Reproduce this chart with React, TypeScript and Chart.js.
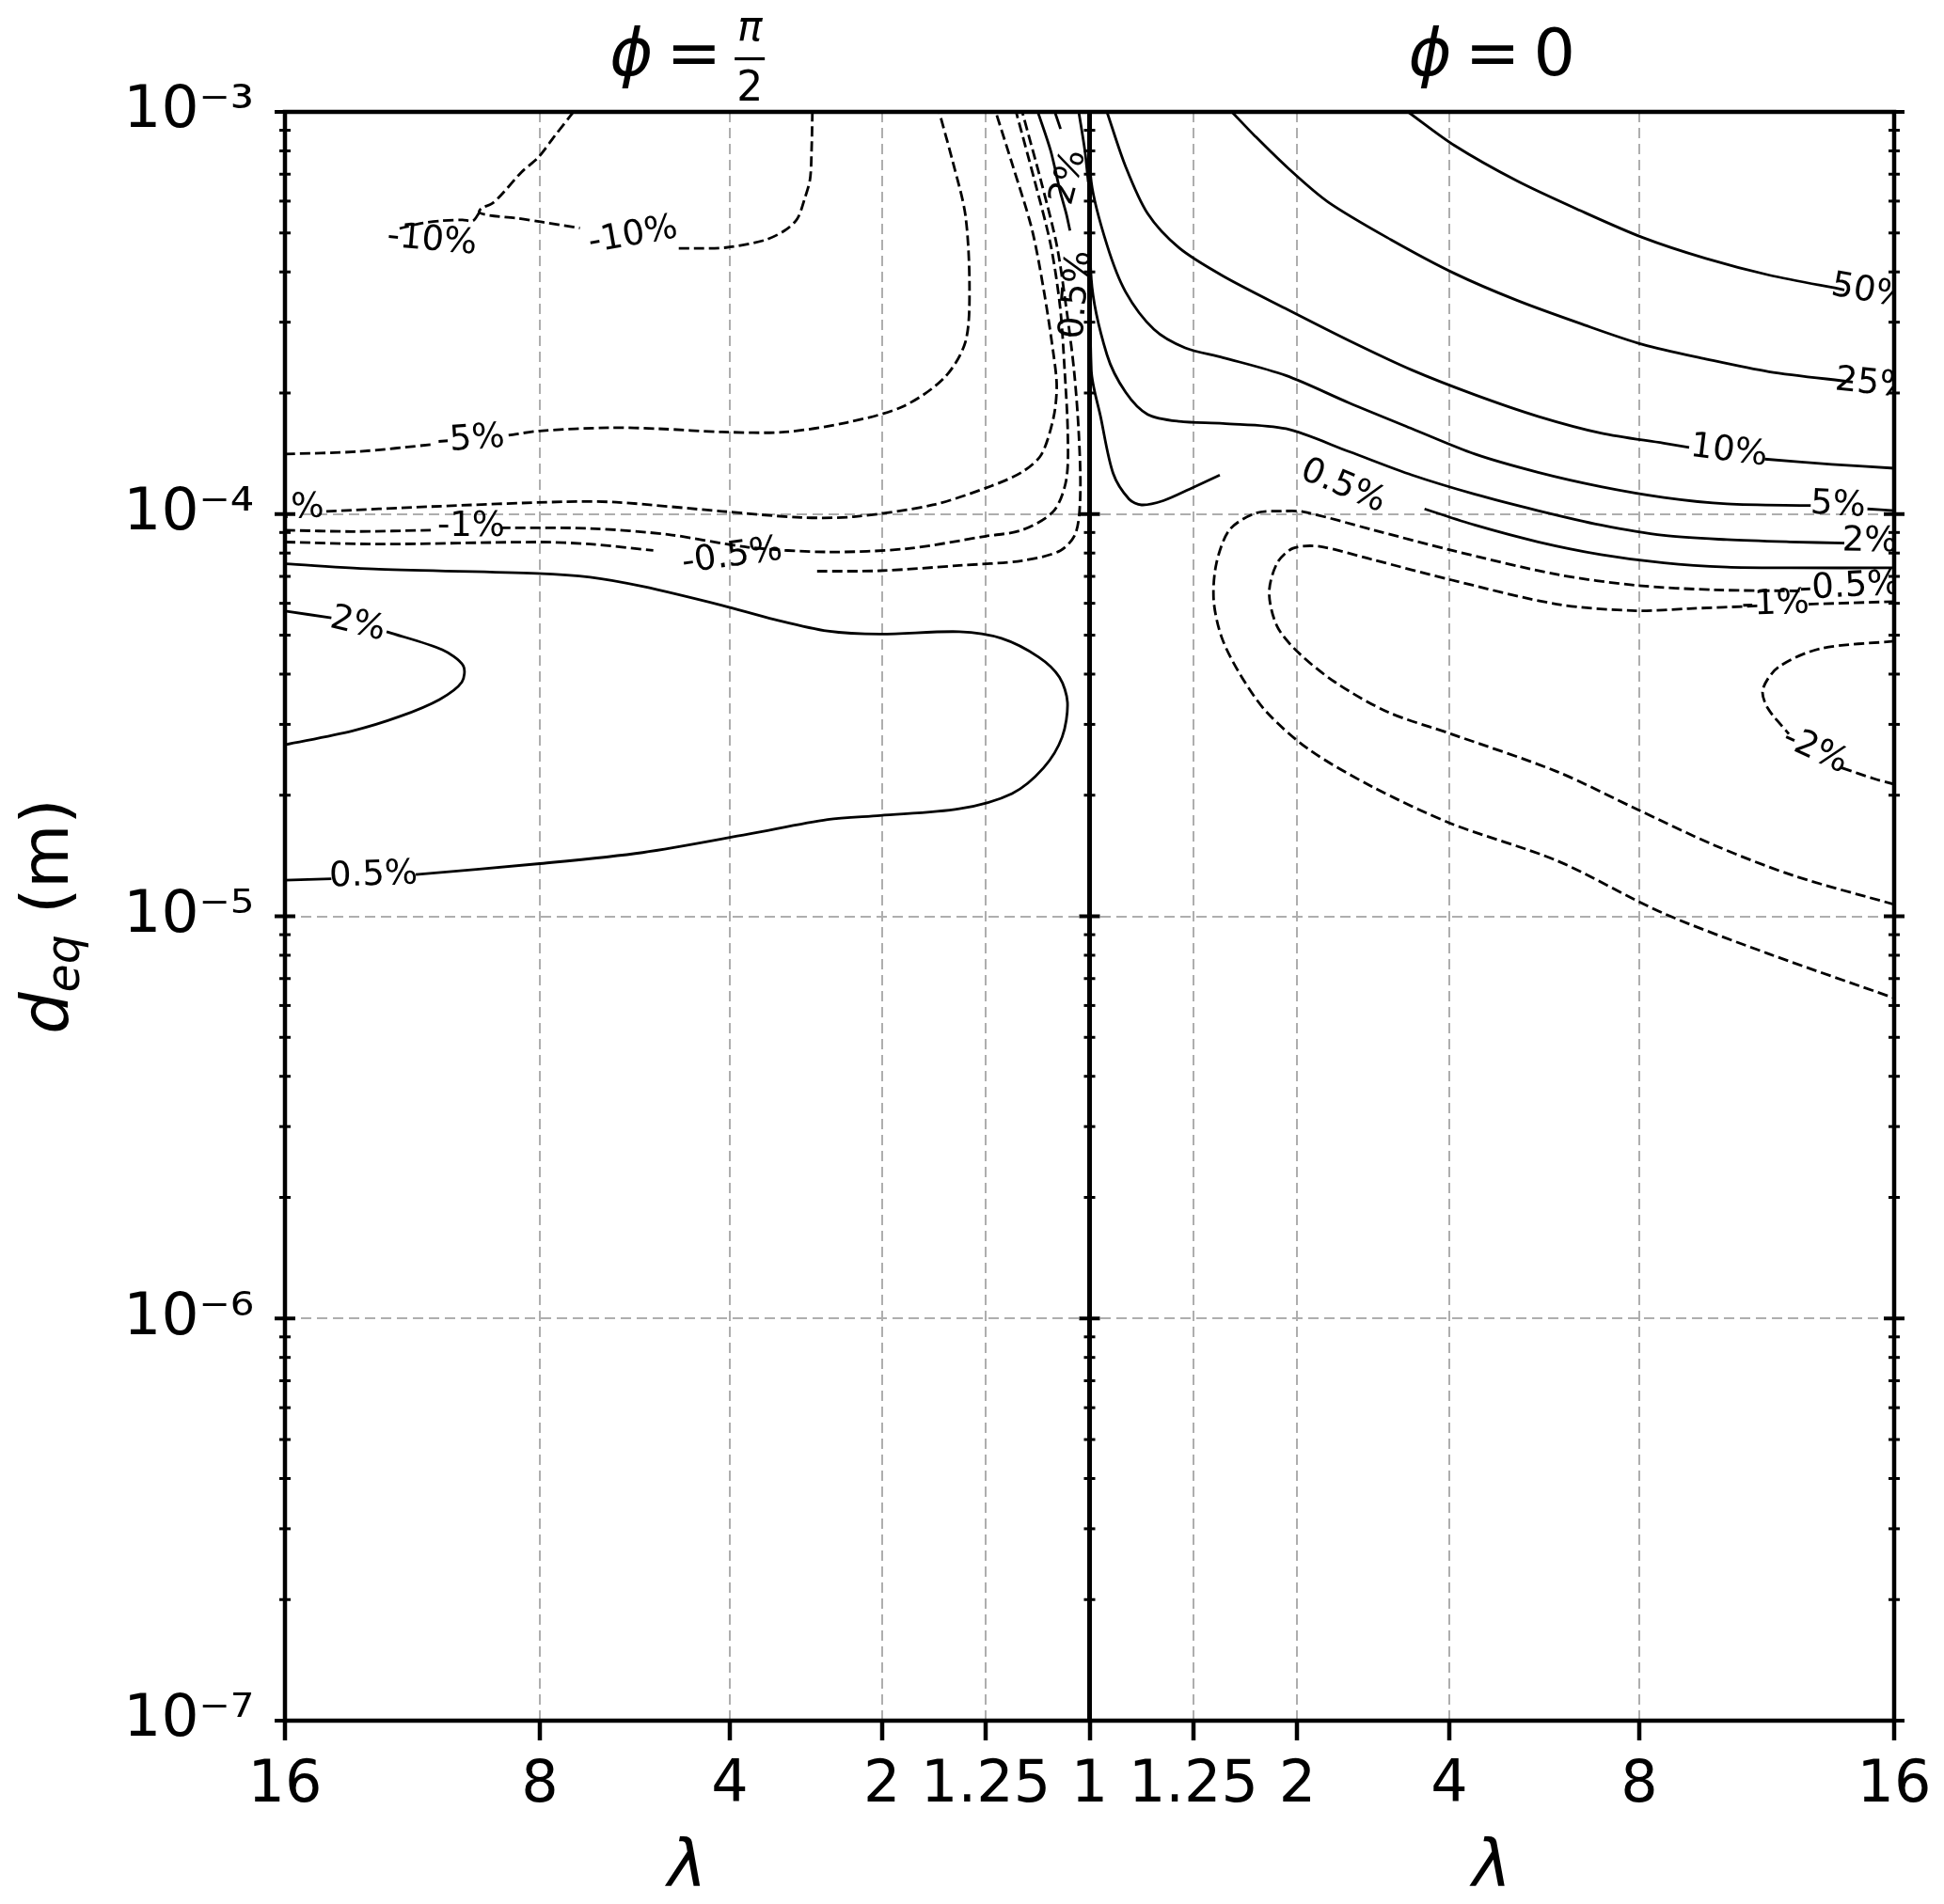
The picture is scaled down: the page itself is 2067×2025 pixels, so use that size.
import React, { useEffect, useRef } from 'react';
import Chart from 'chart.js/auto';

const FONT = '"DejaVu Sans", sans-serif';
const CANVAS_W = 2067;
const CANVAS_H = 2025;

// ---------- axes ----------
const LAMBDA_TICKS = [1, 1.25, 2, 4, 8, 16];
const LAMBDA_MAX = 16;
const D_MIN = 1e-7;
const D_MAX = 1e-3;
const D_DECADES = [1e-7, 1e-6, 1e-5, 1e-4, 1e-3];
const D_DECADE_LABELS = ['10⁻⁷', '10⁻⁶', '10⁻⁵', '10⁻⁴', '10⁻³'];
const D_MINOR_MANTISSAS = [2, 3, 4, 5, 6, 7, 8, 9];
const X_LABEL = 'λ';

// ---------- contours: [λ, d_eq (m)] ----------
// left panel (φ = π/2)
const L_M10_A = [[7.17, 1.0e-3], [7.63, 8.71e-4], [8.05, 7.69e-4], [8.48, 7.08e-4], [8.99, 6.26e-4], [9.28, 5.91e-4], [9.57, 5.76e-4], [9.63, 5.62e-4], [9.34, 5.53e-4], [8.6, 5.44e-4], [7.94, 5.32e-4], [7.02, 5.14e-4]];
const L_M10_B = [[4.91, 4.58e-4], [4.61, 4.58e-4], [4.06, 4.6e-4], [3.46, 4.79e-4], [3.16, 5.06e-4], [2.98, 5.42e-4], [2.88, 6.09e-4], [2.81, 6.81e-4], [2.79, 8.08e-4], [2.78, 1.0e-3]];
const L_M10_C = [[9.63, 5.62e-4], [9.81, 5.36e-4], [10.11, 5.39e-4], [10.73, 5.36e-4], [11.37, 5.28e-4], [12.03, 5.13e-4]];
const L_M5_A = [[16, 1.41e-4], [13.42, 1.43e-4], [10.99, 1.49e-4]];
const L_M5_B = [[8.82, 1.57e-4], [8.0, 1.61e-4], [6.34, 1.64e-4], [5.3, 1.63e-4], [4.13, 1.6e-4], [3.15, 1.6e-4], [2.36, 1.69e-4], [1.81, 1.85e-4], [1.49, 2.18e-4], [1.357, 2.68e-4], [1.334, 3.66e-4], [1.357, 5.53e-4], [1.434, 7.53e-4], [1.524, 1.0e-3]];
const L_M2 = [[14.5, 1.016e-4], [11.03, 1.044e-4], [7.41, 1.073e-4], [6.19, 1.07e-4], [4.13, 1.016e-4], [2.93, 9.81e-5], [2.29, 9.85e-5], [1.569, 1.054e-4], [1.225, 1.174e-4], [1.105, 1.273e-4], [1.054, 1.405e-4], [1.03, 1.74e-4], [1.025, 2.08e-4], [1.03, 2.49e-4], [1.048, 3.57e-4], [1.077, 5.11e-4], [1.136, 7.32e-4], [1.204, 1.0e-3]];
const L_M1_A = [[16, 9.12e-5], [13.59, 9.05e-5], [11.03, 9.12e-5]];
const L_M1_B = [[9.05, 9.24e-5], [6.78, 9.21e-5], [5.1, 8.89e-5], [3.7, 8.27e-5], [2.59, 8.05e-5], [1.777, 8.2e-5], [1.25, 8.81e-5], [1.105, 9.13e-5], [1.03, 1.017e-4], [1.0126, 1.216e-4], [1.011, 1.59e-4], [1.0144, 2.28e-4], [1.02, 3.26e-4], [1.035, 4.67e-4], [1.069, 6.69e-4], [1.125, 1.0e-3]];
const L_M05_A = [[16, 8.52e-5], [12.7, 8.42e-5], [8.07, 8.52e-5], [6.78, 8.42e-5], [5.41, 8.12e-5]];
const L_M05_B = [[2.72, 7.21e-5], [2.016, 7.23e-5], [1.393, 7.45e-5], [1.105, 7.66e-5], [1.02, 8.11e-5], [1.0045, 8.96e-5], [1.002, 1.112e-4], [1.0027, 1.59e-4], [1.0056, 2.28e-4], [1.0126, 3.26e-4], [1.025, 4.67e-4], [1.054, 6.69e-4], [1.105, 1.0e-3]];
const L_P2_A = [[16, 5.74e-5], [14.32, 5.52e-5]];
const L_P2_B = [[12.45, 5.1e-5], [10.71, 4.6e-5], [10.09, 4.2e-5], [10.13, 3.82e-5], [10.79, 3.46e-5], [12.02, 3.14e-5], [13.59, 2.89e-5], [16, 2.67e-5]];
const L_P05_A = [[16, 7.52e-5], [12.7, 7.29e-5], [8.07, 7.12e-5], [6.78, 6.97e-5], [5.63, 6.61e-5], [4.13, 5.93e-5], [3.3, 5.47e-5], [2.59, 5.12e-5], [2.016, 5.03e-5], [1.393, 5.1e-5], [1.18, 4.91e-5], [1.06, 4.41e-5], [1.021, 3.93e-5], [1.0113, 3.4e-5], [1.0174, 2.79e-5], [1.049, 2.34e-5], [1.139, 2.02e-5], [1.393, 1.85e-5], [2.016, 1.78e-5], [2.59, 1.74e-5], [3.7, 1.6e-5], [5.63, 1.44e-5], [8.07, 1.35e-5], [11.52, 1.27e-5]];
const L_P05_B = [[14.32, 1.24e-5], [16, 1.23e-5]];
const L_NEAR1_A = [[1.062, 1.0e-3], [1.035, 8.0e-4], [1.02, 6.34e-4], [1.0126, 5.59e-4], [1.0089, 5.07e-4]];
const L_NEAR1_B = [[1.028, 1.0e-3], [1.0195, 9.07e-4]];
const L_NEAR1_C = [[1.0027, 1.0e-3], [1.0005, 8.0e-4], [1.00004, 6.69e-4]];

// right panel (φ = 0)
const R_P50 = [[3.35, 1.0e-3], [4.08, 8.26e-4], [5.23, 6.74e-4], [6.57, 5.69e-4], [8.09, 4.87e-4], [9.8, 4.32e-4], [11.69, 3.93e-4], [14.2, 3.61e-4]];
const R_P25 = [[1.469, 1.0e-3], [1.634, 8.71e-4], [1.917, 7.23e-4], [2.318, 5.97e-4], [3.106, 4.81e-4], [4.08, 3.97e-4], [5.23, 3.4e-4], [6.57, 2.98e-4], [8.09, 2.64e-4], [9.8, 2.43e-4], [11.69, 2.26e-4], [14.5, 2.13e-4]];
const R_P10_A = [[1.007, 1.0e-3], [1.03, 7.32e-4], [1.078, 5.59e-4], [1.186, 4.59e-4], [1.412, 3.91e-4], [1.894, 3.24e-4], [2.56, 2.7e-4], [3.41, 2.28e-4], [4.44, 1.98e-4], [5.66, 1.75e-4], [7.06, 1.59e-4], [8.64, 1.5e-4], [9.33, 1.465e-4]];
const R_P10_B = [[11.56, 1.37e-4], [13.76, 1.33e-4], [16, 1.3e-4]];
const R_P5_A = [[1.0, 1.0e-3], [1.00007, 6.69e-4], [1.007, 4.67e-4], [1.03, 3.57e-4], [1.096, 2.88e-4], [1.212, 2.59e-4], [1.412, 2.45e-4], [1.894, 2.21e-4], [2.56, 1.89e-4], [3.41, 1.63e-4], [4.44, 1.41e-4], [5.66, 1.27e-4], [7.06, 1.17e-4], [8.64, 1.1e-4], [10.41, 1.06e-4], [13.05, 1.05e-4]];
const R_P5_B = [[15.02, 1.03e-4], [16, 1.02e-4]];
const R_P2 = [[1.0, 1.0e-3], [1.00007, 3.84e-4], [1.007, 2.49e-4], [1.03, 2.01e-4], [1.078, 1.77e-4], [1.186, 1.7e-4], [1.412, 1.68e-4], [1.894, 1.63e-4], [2.56, 1.43e-4], [3.41, 1.25e-4], [4.44, 1.12e-4], [5.66, 1.02e-4], [7.06, 9.39e-5], [8.64, 8.85e-5], [10.41, 8.64e-5], [12.36, 8.53e-5], [14.2, 8.47e-5]];
const R_P05_A = [[1.0, 1.0e-3], [1.00007, 2.28e-4], [1.0029, 1.74e-4], [1.013, 1.26e-4], [1.036, 1.09e-4], [1.0625, 1.054e-4], [1.126, 1.08e-4], [1.241, 1.16e-4], [1.393, 1.25e-4]];
const R_P05_B = [[3.6, 1.03e-4], [4.44, 9.39e-5], [5.66, 8.53e-5], [7.06, 7.93e-5], [8.64, 7.56e-5], [10.41, 7.38e-5], [12.36, 7.35e-5], [16, 7.35e-5]];
const R_M05 = [[12.68, 6.44e-5], [10.06, 6.48e-5], [7.92, 6.65e-5], [6.06, 7.08e-5], [4.03, 8.13e-5], [2.85, 9.15e-5], [2.06, 1.013e-4], [1.862, 1.017e-4], [1.642, 1.006e-4], [1.455, 9.15e-5], [1.373, 7.55e-5], [1.357, 6.1e-5], [1.405, 4.93e-5], [1.526, 3.99e-5], [1.726, 3.22e-5], [2.114, 2.6e-5], [2.85, 2.1e-5], [4.03, 1.7e-5], [6.06, 1.375e-5], [8.6, 1.02e-5], [11.66, 8.08e-6], [16, 6.26e-6]];
const R_M1_A = [[16, 6.06e-5], [12.94, 5.97e-5]];
const R_M1_B = [[11.33, 5.91e-5], [9.32, 5.82e-5], [7.92, 5.75e-5], [6.06, 5.97e-5], [4.03, 6.86e-5], [2.85, 7.71e-5], [2.224, 8.31e-5], [1.959, 8.22e-5], [1.815, 7.55e-5], [1.7475, 6.37e-5], [1.815, 5.26e-5], [2.008, 4.53e-5], [2.397, 3.82e-5], [3.06, 3.22e-5], [4.03, 2.84e-5], [6.06, 2.29e-5], [7.92, 1.85e-5], [10.06, 1.5e-5], [12.51, 1.26e-5], [16, 1.07e-5]];
const R_M2_A = [[16, 4.83e-5], [13.38, 4.63e-5], [11.99, 4.16e-5], [11.5, 3.66e-5], [11.66, 3.29e-5], [12.33, 2.84e-5]];
const R_M2_B = [[14.11, 2.34e-5], [15.24, 2.2e-5], [16, 2.13e-5]];

// side: -1 = left panel (φ = π/2), +1 = right panel (φ = 0); level in %
const CONTOURS = [
  { side: -1, level: -10, pts: L_M10_A }, { side: -1, level: -10, pts: L_M10_B }, { side: -1, level: -10, pts: L_M10_C },
  { side: -1, level: -5, pts: L_M5_A }, { side: -1, level: -5, pts: L_M5_B },
  { side: -1, level: -2, pts: L_M2 },
  { side: -1, level: -1, pts: L_M1_A }, { side: -1, level: -1, pts: L_M1_B },
  { side: -1, level: -0.5, pts: L_M05_A }, { side: -1, level: -0.5, pts: L_M05_B },
  { side: -1, level: 2, pts: L_P2_A }, { side: -1, level: 2, pts: L_P2_B },
  { side: -1, level: 0.5, pts: L_P05_A }, { side: -1, level: 0.5, pts: L_P05_B },
  { side: -1, level: 1, pts: L_NEAR1_A }, { side: -1, level: 2, pts: L_NEAR1_B }, { side: -1, level: 0.5, pts: L_NEAR1_C },
  { side: 1, level: 50, pts: R_P50 }, { side: 1, level: 25, pts: R_P25 },
  { side: 1, level: 10, pts: R_P10_A }, { side: 1, level: 10, pts: R_P10_B },
  { side: 1, level: 5, pts: R_P5_A }, { side: 1, level: 5, pts: R_P5_B },
  { side: 1, level: 2, pts: R_P2 },
  { side: 1, level: 0.5, pts: R_P05_A }, { side: 1, level: 0.5, pts: R_P05_B },
  { side: 1, level: -0.5, pts: R_M05 },
  { side: 1, level: -1, pts: R_M1_A }, { side: 1, level: -1, pts: R_M1_B },
  { side: 1, level: -2, pts: R_M2_A }, { side: 1, level: -2, pts: R_M2_B },
];

// inline contour labels: text, panel side, λ, d, rotation (deg)
const CONTOUR_LABELS = [
  { text: '-10%', side: -1, lam: 5.83, d: 4.92e-4, rot: -10 },
  { text: '-10%', side: -1, lam: 11.02, d: 4.78e-4, rot: 5 },
  { text: '-5%', side: -1, lam: 9.87, d: 1.53e-4, rot: -4 },
  { text: '-2%', side: -1, lam: 15.81, d: 1.03e-4, rot: -2 },
  { text: '-1%', side: -1, lam: 9.86, d: 9.3e-5, rot: 0 },
  { text: '-0.5%', side: -1, lam: 3.96, d: 7.83e-5, rot: -8 },
  { text: '2%', side: -1, lam: 13.41, d: 5.31e-5, rot: 14 },
  { text: '0.5%', side: -1, lam: 12.88, d: 1.26e-5, rot: -2 },
  { text: '2%', side: -1, lam: 1.0097, d: 6.87e-4, rot: -75 },
  { text: '0.5%', side: -1, lam: 1.0037, d: 3.51e-4, rot: -85 },
  { text: '50%', side: 1, lam: 15.1, d: 3.56e-4, rot: 10 },
  { text: '25%', side: 1, lam: 15.24, d: 2.1e-4, rot: 6 },
  { text: '10%', side: 1, lam: 10.47, d: 1.43e-4, rot: 7 },
  { text: '5%', side: 1, lam: 13.98, d: 1.05e-4, rot: 3 },
  { text: '2%', side: 1, lam: 15.1, d: 8.53e-5, rot: 1 },
  { text: '0.5%', side: 1, lam: 2.49, d: 1.17e-4, rot: 23 },
  { text: '-0.5%', side: 1, lam: 14.39, d: 6.58e-5, rot: -3 },
  { text: '-1%', side: 1, lam: 11.9, d: 5.95e-5, rot: -2 },
  { text: '-2%', side: 1, lam: 13.2, d: 2.58e-5, rot: 25 },
];

// ---------- helpers ----------
// the λ axis is linear in sqrt(λ - 1); the left panel runs from λ=16 down to 1
const lamToX = (lam: number, side: number) => side * Math.sqrt(Math.max(lam - 1, 0));
const isDecade = (v: number) => Math.abs(Math.log10(v) - Math.round(Math.log10(v))) < 1e-6;
const GRID_COLOR = '#aeaeae';
const CLEAR = 'rgba(0,0,0,0)';

type Item = { text?: string; font?: string; gap?: number; dy?: number; num?: string; den?: string; numFont?: string; denFont?: string; pad?: number; numRise?: number; denDrop?: number; barRise?: number };

function itemWidth(ctx: CanvasRenderingContext2D, it: Item) {
  if (it.gap != null) return it.gap;
  if (it.num != null) {
    ctx.font = it.numFont!;
    const a = ctx.measureText(it.num).width;
    ctx.font = it.denFont!;
    const b = ctx.measureText(it.den!).width;
    return Math.max(a, b) + 2 * (it.pad || 0);
  }
  ctx.font = it.font!;
  return ctx.measureText(it.text!).width;
}

function drawMath(ctx: CanvasRenderingContext2D, items: Item[], cx: number, base: number) {
  const total = items.reduce((s, it) => s + itemWidth(ctx, it), 0);
  let x = cx - total / 2;
  ctx.fillStyle = '#000';
  ctx.textBaseline = 'alphabetic';
  for (const it of items) {
    const w = itemWidth(ctx, it);
    if (it.gap == null) {
      if (it.num != null) {
        const mid = x + w / 2;
        ctx.textAlign = 'center';
        ctx.font = it.numFont!;
        ctx.fillText(it.num, mid, base - (it.numRise || 0));
        ctx.font = it.denFont!;
        ctx.fillText(it.den!, mid, base + (it.denDrop || 0));
        ctx.fillRect(x, base - (it.barRise || 0) - 1.6, w, 3.2);
      } else {
        ctx.textAlign = 'left';
        ctx.font = it.font!;
        ctx.fillText(it.text!, x, base + (it.dy || 0));
      }
    }
    x += w;
  }
}

const decorPlugin = {
  id: 'decor',
  beforeDraw(chart: any) {
    const { ctx } = chart;
    ctx.save();
    ctx.fillStyle = '#fff';
    ctx.fillRect(0, 0, chart.width, chart.height);
    ctx.restore();
  },
  afterDatasetsDraw(chart: any) {
    const { ctx, chartArea: ca, scales } = chart;
    const xs = scales.x;
    const ys = scales.y;
    // contour labels
    ctx.save();
    ctx.beginPath();
    ctx.rect(ca.left, ca.top, ca.right - ca.left, ca.bottom - ca.top);
    ctx.clip();
    ctx.font = `37px ${FONT}`;
    ctx.fillStyle = '#000';
    ctx.textAlign = 'center';
    ctx.textBaseline = 'middle';
    for (const lb of CONTOUR_LABELS) {
      const px = xs.getPixelForValue(lamToX(lb.lam, lb.side));
      const py = ys.getPixelForValue(lb.d);
      ctx.save();
      ctx.translate(px, py);
      ctx.rotate((lb.rot * Math.PI) / 180);
      ctx.fillText(lb.text, 0, 0);
      ctx.restore();
    }
    ctx.restore();

    // spines
    const xMid = xs.getPixelForValue(0);
    ctx.save();
    ctx.strokeStyle = '#000';
    ctx.lineWidth = 4.5;
    ctx.strokeRect(ca.left, ca.top, ca.right - ca.left, ca.bottom - ca.top);
    ctx.lineWidth = 5;
    ctx.beginPath();
    ctx.moveTo(xMid, ca.top);
    ctx.lineTo(xMid, ca.bottom);
    ctx.stroke();
    // y ticks crossing the three spines
    for (const t of ys.ticks) {
      const py = ys.getPixelForValue(t.value);
      const major = isDecade(t.value);
      const half = major ? 11 : 6;
      ctx.lineWidth = major ? 4 : 3;
      for (const sx of [ca.left, xMid, ca.right]) {
        ctx.beginPath();
        ctx.moveTo(sx - half, py);
        ctx.lineTo(sx + half, py);
        ctx.stroke();
      }
    }
    ctx.restore();
  },
  afterDraw(chart: any) {
    const { ctx, chartArea: ca, scales } = chart;
    const xMid = scales.x.getPixelForValue(0);
    const centers = [(ca.left + xMid) / 2, (xMid + ca.right) / 2];
    ctx.save();
    const phi = { text: 'ϕ', font: `italic 70px ${FONT}` };
    const eq = { text: '=', font: `70px ${FONT}` };
    // titles
    drawMath(ctx, [phi, { gap: 14 }, eq, { gap: 14 },
      { num: 'π', den: '2', numFont: `italic 44px ${FONT}`, denFont: `44px ${FONT}`, pad: 2, numRise: 37, denDrop: 27, barRise: 17.5 }],
      centers[0], 80);
    drawMath(ctx, [phi, { gap: 14 }, eq, { gap: 14 }, { text: '0', font: `70px ${FONT}` }], centers[1], 80);
    // x labels
    for (const c of centers) {
      drawMath(ctx, [{ text: X_LABEL, font: `italic 70px ${FONT}` }], c, 2006);
    }
    // y label
    ctx.translate(72, (ca.top + ca.bottom) / 2);
    ctx.rotate(-Math.PI / 2);
    drawMath(ctx, [
      { text: 'd', font: `italic 70px ${FONT}` },
      { text: 'eq', font: `italic 49px ${FONT}`, dy: 12 },
      { text: ' (m)', font: `70px ${FONT}` },
    ], 0, 0);
    ctx.restore();
  },
};

export default function App() {
  const canvasRef = useRef<HTMLCanvasElement | null>(null);

  useEffect(() => {
    const canvas = canvasRef.current;
    if (!canvas) return;

    const xTickValues = [
      ...LAMBDA_TICKS.slice(1).reverse().map((l) => lamToX(l, -1)),
      0,
      ...LAMBDA_TICKS.slice(1).map((l) => lamToX(l, 1)),
    ];
    const xEdge = lamToX(LAMBDA_MAX, 1);
    const yTickValues: number[] = [];
    D_DECADES.forEach((dec, i) => {
      yTickValues.push(dec);
      if (i < D_DECADES.length - 1) D_MINOR_MANTISSAS.forEach((m) => yTickValues.push(m * dec));
    });

    const datasets = CONTOURS.map((c) => ({
      data: c.pts.map(([l, d]) => ({ x: lamToX(l, c.side), y: d })),
      borderColor: '#000',
      borderWidth: 2.8,
      borderDash: c.level < 0 ? [11, 5] : [],
      pointRadius: 0,
      pointHoverRadius: 0,
      tension: 0.3,
      fill: false,
    }));

    const chart = new Chart(canvas, {
      type: 'line',
      data: { datasets },
      plugins: [decorPlugin],
      options: {
        responsive: false,
        animation: false,
        events: [],
        layout: { padding: { left: 103, right: 53, top: 119, bottom: 95 } },
        plugins: { legend: { display: false }, tooltip: { enabled: false }, title: { display: false } },
        scales: {
          x: {
            type: 'linear',
            min: -xEdge,
            max: xEdge,
            afterBuildTicks: (scale: any) => {
              scale.ticks = xTickValues.map((v) => ({ value: v }));
            },
            afterFit: (scale: any) => {
              scale.height = 100;
            },
            grid: {
              color: (ctx: any) => {
                const v = ctx.tick ? ctx.tick.value : 0;
                return Math.abs(v) < 1e-9 || Math.abs(Math.abs(v) - xEdge) < 1e-9 ? CLEAR : GRID_COLOR;
              },
              lineWidth: 2,
              drawTicks: true,
              tickLength: 21,
              tickWidth: 4.5,
              tickColor: '#000',
            },
            border: { display: false, dash: [11, 6] },
            ticks: {
              autoSkip: false,
              maxRotation: 0,
              minRotation: 0,
              padding: 12,
              color: '#000',
              font: { family: FONT, size: 62 },
              callback: (value: any) => String(Math.round((1 + value * value) * 100) / 100),
            },
          },
          y: {
            type: 'logarithmic',
            min: D_MIN,
            max: D_MAX,
            afterBuildTicks: (scale: any) => {
              scale.ticks = yTickValues.map((v) => ({ value: v, major: isDecade(v) }));
            },
            afterFit: (scale: any) => {
              scale.width = 200;
            },
            grid: {
              color: (ctx: any) => {
                const v = ctx.tick ? ctx.tick.value : D_MIN;
                return isDecade(v) && v > D_MIN * 1.5 && v < D_MAX / 1.5 ? GRID_COLOR : CLEAR;
              },
              lineWidth: 2,
              drawTicks: false,
            },
            border: { display: false, dash: [11, 6] },
            ticks: {
              autoSkip: false,
              padding: 33,
              color: '#000',
              font: { family: FONT, size: 63 },
              callback: (value: any) => {
                const i = D_DECADES.findIndex((d) => Math.abs(d - value) / d < 1e-6);
                return i >= 0 ? D_DECADE_LABELS[i] : '';
              },
            },
          },
        },
      } as any,
    });

    return () => chart.destroy();
  }, []);

  return (
    <div style={{ position: 'fixed', left: 0, top: 0, width: CANVAS_W, height: CANVAS_H, background: '#fff' }}>
      <canvas ref={canvasRef} width={CANVAS_W} height={CANVAS_H} style={{ display: 'block', width: CANVAS_W, height: CANVAS_H }} />
    </div>
  );
}
